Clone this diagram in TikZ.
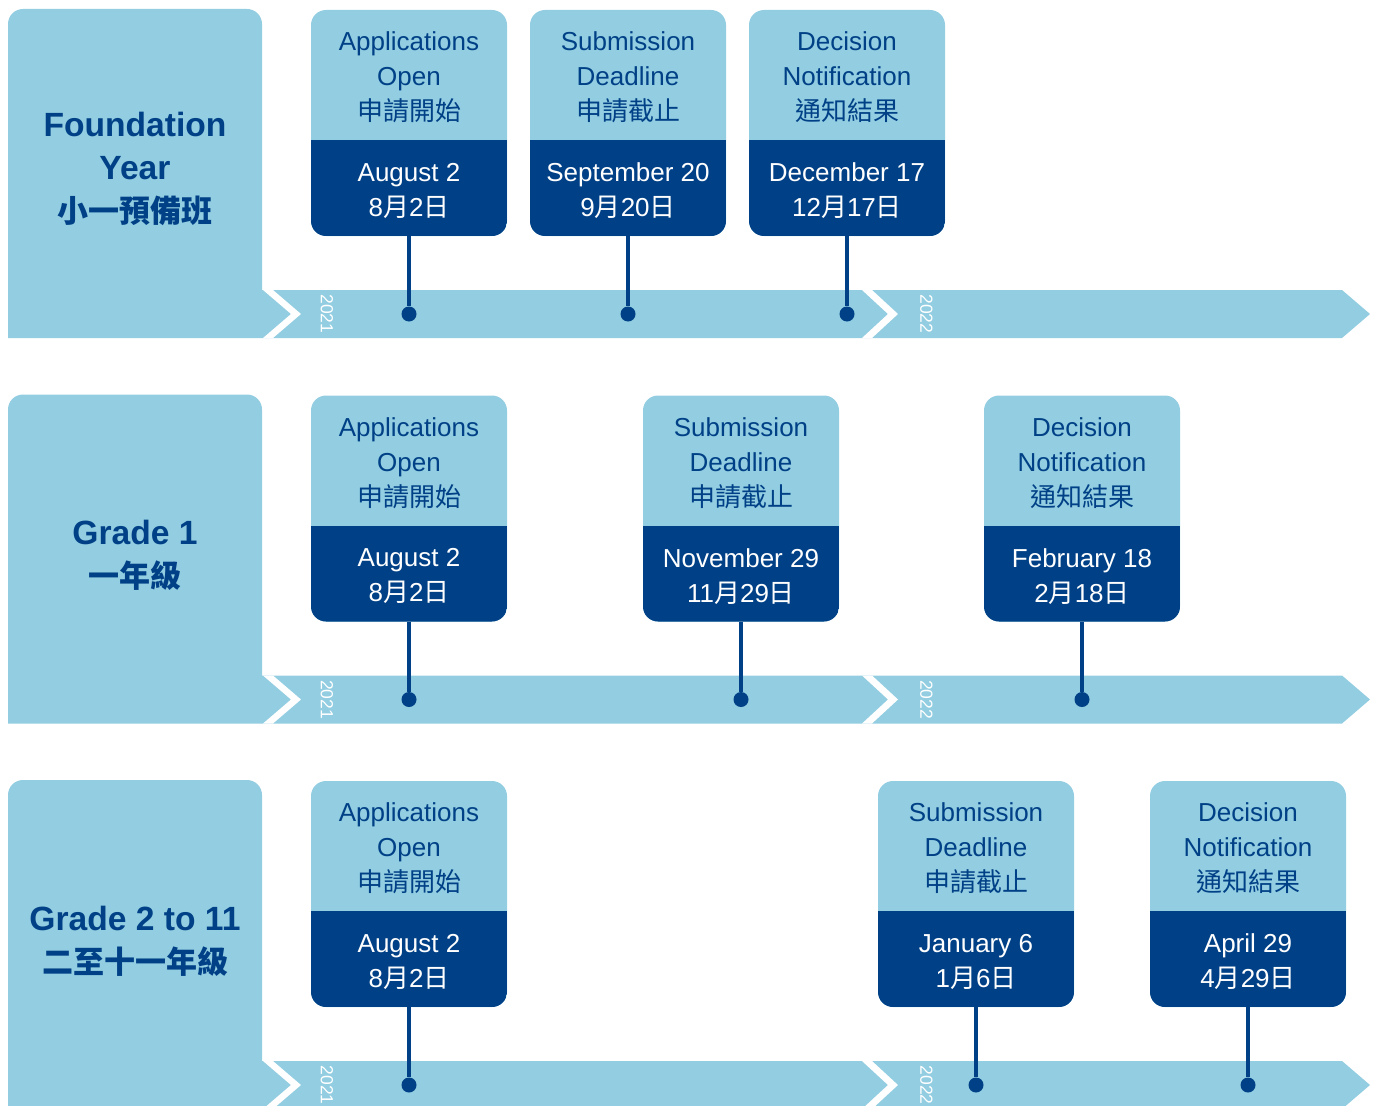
\documentclass[tikz,border=0pt]{standalone}
\usepackage{fontspec}
\setmainfont{Liberation Sans}
\newfontfamily\cjk{Noto Sans CJK TC}
\newcommand{\yue}{{\cjk 月}}
\newcommand{\ri}{{\cjk 日}}
\definecolor{lightbg}{RGB}{146,205,225}
\definecolor{darkbg}{RGB}{0,64,134}

\begin{document}
\begin{tikzpicture}[x=1pt, y=1pt]
	\tikzstyle{card}=[rectangle, rounded corners=15pt, fill=lightbg, minimum width=196pt, minimum height=226pt, inner sep=0pt,
		path picture={\fill[darkbg, sharp corners] (path picture bounding box.south west) rectangle ([yshift=96pt]path picture bounding box.south east);}]
	\tikzstyle{head}=[align=center, text=darkbg, inner sep=0pt, font=\fontsize{26}{35}\selectfont]
	\tikzstyle{date}=[align=center, text=white, inner sep=0pt, font=\fontsize{26}{35}\selectfont]
	\tikzstyle{title}=[align=center, text=darkbg, inner sep=0pt, font=\bfseries\fontsize{33.6}{43}\selectfont]
	\tikzstyle{year}=[text=white, rotate=-90, inner sep=0pt, font=\fontsize{17.5}{18}\selectfont]
	\tikzstyle{dot}=[circle, fill=darkbg, minimum size=15pt, inner sep=0pt]
	\tikzstyle{stem}=[draw=darkbg, line width=4pt]

	\clip (0,0) rectangle (1375,-1105);

	% panel and time band of each row
	\foreach \oy in {0, -385.5, -771} {
		\begin{scope}[yshift=\oy pt]
			\fill[lightbg] (8,-338) -- (8,-24) arc[start angle=180, end angle=90, radius=15] -- (247,-9)
				arc[start angle=90, end angle=0, radius=15] -- (262,-290) -- (1342,-290) -- (1370,-314) -- (1342,-338) -- cycle;
			\fill[white] (263,-290) -- (273,-290) -- (301,-314) -- (273,-338) -- (263,-338) -- (291,-314) -- cycle;
			\fill[white] (862,-290) -- (872,-290) -- (898,-314) -- (872,-338) -- (862,-338) -- (888,-314) -- cycle;
			\node[year] at (327,-314) {2021};
			\node[year] at (926.5,-314) {2022};
		\end{scope}
	}

	\node[title] (foundation) at (135,-169) {Foundation\\Year\\{\cjk\fontsize{31}{43}\selectfont 小一預備班}};
	\node[title] (grade1) at (135,-555) {Grade 1\\{\cjk\fontsize{31}{43}\selectfont 一年級}};
	\node[title] (grade2) at (135,-941) {Grade 2 to 11\\{\cjk\fontsize{31}{43}\selectfont 二至十一年級}};

	% cards
	\foreach \r/\oy/\x/\ta/\tb/\tc/\da/\db in {
		1/0/409/Applications/Open/申請開始/August 2/8\yue2\ri,
		1/0/628/Submission/Deadline/申請截止/September 20/9\yue20\ri,
		1/0/847/Decision/Notification/通知結果/December 17/12\yue17\ri,
		2/-385.5/409/Applications/Open/申請開始/August 2/8\yue2\ri,
		2/-385.5/741/Submission/Deadline/申請截止/November 29/11\yue29\ri,
		2/-385.5/1082/Decision/Notification/通知結果/February 18/2\yue18\ri,
		3/-771/409/Applications/Open/申請開始/August 2/8\yue2\ri,
		3/-771/976/Submission/Deadline/申請截止/January 6/1\yue6\ri,
		3/-771/1248/Decision/Notification/通知結果/April 29/4\yue29\ri} {
		\node[card] (card-\r-\x) at (\x,{\oy-123}) {};
		\node[head] (head-\r-\x) at ([yshift=-67.5pt]card-\r-\x.north) {\ta\\\tb\\{\cjk \tc}};
		\node[date] (date-\r-\x) at ([yshift=45.5pt]card-\r-\x.south) {\da\\\db};
		\node[dot] (dot-\r-\x) at (\x,{\oy-314}) {};
		\draw[stem] (card-\r-\x) -- (dot-\r-\x);
	}
\end{tikzpicture}
\end{document}
